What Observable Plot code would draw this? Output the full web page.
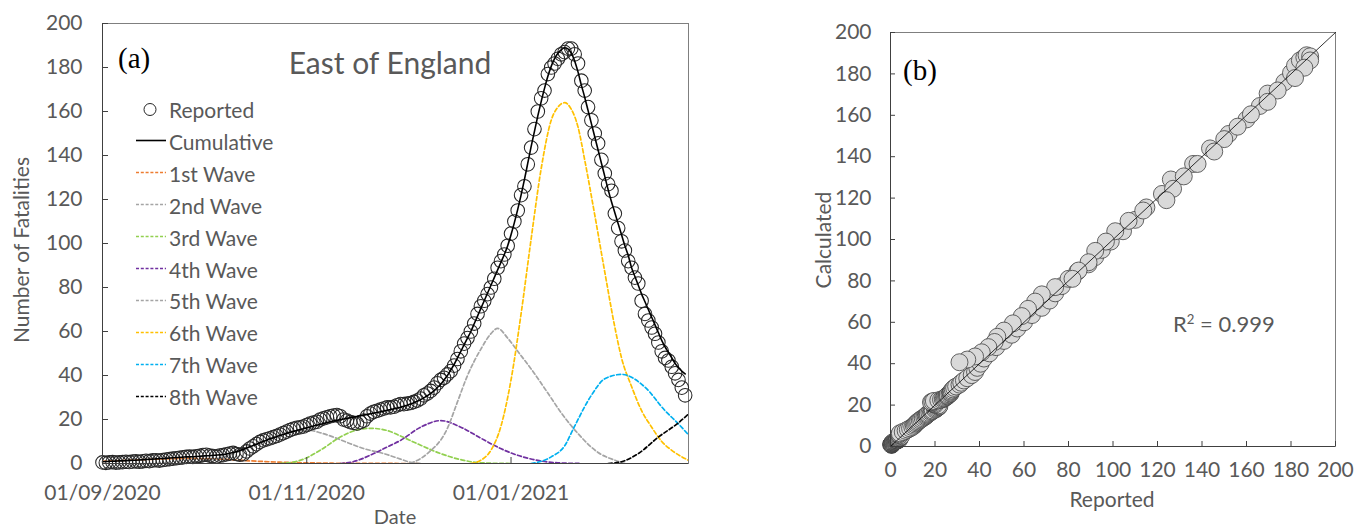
<!DOCTYPE html>
<html><head><meta charset="utf-8">
<script src="https://cdn.jsdelivr.net/npm/d3@7"></script>
<script src="https://cdn.jsdelivr.net/npm/@observablehq/plot@0.6"></script>
<style>
body{margin:0;background:#fff;}
#wrap{position:relative;width:1361px;height:530px;font-family:Lato,sans-serif;color:#595959;overflow:hidden;background:#fff}
#wrap svg.plot{position:absolute;top:0}
.t{position:absolute;white-space:nowrap;line-height:1}
.c{transform:translate(-50%,-50%)}
.r{transform:translate(-50%,-50%) rotate(-90deg)}
.leg{position:absolute;left:134px;display:flex;align-items:center;transform:translateY(-50%);font-size:21px;line-height:1;white-space:nowrap}
.leg span{margin-left:3px}
</style></head><body><div id="wrap"></div>
<script>
// ---------- data ----------
const startDate = "2020-09-01";
const endDate = "2021-02-23";
const dateTicks = ["2020-09-01", "2020-11-01", "2021-01-01"];
const valueTicks = [0, 20, 40, 60, 80, 100, 120, 140, 160, 180, 200];
const identityLine = [0, 200];

// daily reported fatalities (from 01/09/2020)
const reported = [
  0.5, 0.3, 0.5, 0.6, 0.4, 0.5,
  0.6, 0.8, 0.7, 0.9, 1.0, 0.8,
  1.0, 1.2, 1.1, 1.4, 1.5, 1.3,
  1.6, 1.8, 2.0, 2.2, 2.4, 2.6,
  2.8, 3.0, 3.2, 3.0, 3.3, 3.5,
  3.8, 4.0, 3.6, 3.4, 3.2, 3.6,
  3.8, 4.2, 4.5, 4.8, 4.3, 4.0,
  4.2, 5.5, 6.8, 7.8, 8.8, 9.8,
  10.5, 11.0, 11.5, 12.0, 12.5, 13.2,
  13.8, 14.5, 15.2, 15.8, 16.2, 16.5,
  16.8, 17.5, 18.2, 18.6, 19.0, 20.0,
  20.5, 21.0, 21.5, 21.8, 22.0, 21.5,
  20.0, 19.5, 18.8, 18.5, 18.2, 18.8,
  19.5, 21.5, 22.7, 23.5, 24.0, 24.5,
  25.0, 25.5, 25.5, 25.8, 26.5, 27.0,
  27.0, 27.2, 27.5, 28.0, 28.6, 29.5,
  31.0, 31.8, 33.0, 34.5, 36.5, 38.0,
  39.0, 40.5, 42.0, 44.5, 47.5, 51.0,
  54.5, 57.0, 60.0, 63.6, 68.0, 71.5,
  74.0, 77.0, 80.0, 84.0, 89.0, 92.0,
  95.0, 99.0, 104.5, 110.0, 115.0, 122.0,
  126.0, 136.0, 143.6, 152.0, 160.0, 166.0,
  169.5, 177.0, 180.0, 181.8, 184.0, 186.0,
  187.0, 188.6, 188.6, 186.0, 181.8, 174.0,
  169.5, 162.0, 156.0, 150.0, 145.5, 138.0,
  131.8, 127.0, 124.0, 113.6, 107.0, 101.0,
  96.8, 92.0, 89.0, 84.5, 81.8, 74.0,
  68.0, 65.0, 61.8, 59.0, 55.0, 51.0,
  48.0, 46.8, 44.0, 41.0, 38.0, 34.5,
  31.0
];

// daily calculated (cumulative of all waves)
const calculated = [
  0.8, 0.9, 1.0, 1.0, 1.1, 1.2,
  1.2, 1.3, 1.4, 1.5, 1.5, 1.6,
  1.7, 1.8, 1.9, 2.0, 2.1, 2.2,
  2.3, 2.4, 2.5, 2.6, 2.7, 2.8,
  2.9, 3.0, 3.0, 3.1, 3.2, 3.3,
  3.4, 3.5, 3.6, 3.7, 3.8, 3.9,
  4.1, 4.3, 4.6, 5.0, 5.4, 5.9,
  6.4, 7.0, 7.6, 8.2, 8.8, 9.4,
  10.0, 10.6, 11.2, 11.7, 12.2, 12.7,
  13.2, 13.7, 14.2, 14.6, 15.0, 15.4,
  15.8, 16.2, 16.6, 17.0, 17.4, 17.8,
  18.2, 18.6, 19.0, 19.3, 19.6, 19.9,
  20.2, 20.5, 20.8, 21.1, 21.4, 21.7,
  22.0, 22.3, 22.6, 22.9, 23.2, 23.5,
  23.9, 24.2, 24.5, 24.9, 25.2, 25.6,
  26.0, 26.5, 27.0, 27.6, 28.3, 29.0,
  29.9, 30.8, 31.9, 33.0, 34.5, 36.0,
  38.0, 40.0, 42.5, 45.0, 48.0, 51.0,
  54.0, 57.0, 60.0, 63.5, 67.0, 70.5,
  74.0, 77.5, 81.0, 84.5, 88.0, 91.5,
  95.0, 99.0, 104.0, 109.5, 115.5, 122.0,
  129.0, 136.5, 144.0, 151.0, 158.0, 164.5,
  170.5, 176.0, 180.5, 184.0, 186.5, 188.0,
  189.0, 188.5, 186.5, 183.0, 178.0, 172.0,
  166.5, 160.5, 154.5, 148.5, 142.5, 136.5,
  130.5, 124.5, 119.0, 114.0, 109.0, 104.0,
  99.0, 94.5, 89.0, 85.0, 81.0, 77.0,
  73.5, 70.0, 66.5, 63.0, 59.5, 56.0,
  53.0, 50.5, 48.0, 45.5, 43.5, 42.0,
  40.7
];

const wave1 = [["2020-09-01",1.0],["2020-09-09",1.5],["2020-09-18",2.0],["2020-09-27",2.3],["2020-10-06",2.0],["2020-10-15",1.2],["2020-10-24",0.6],["2020-11-05",0.2],["2020-11-17",0.05],["2020-12-05",0]];
const wave2 = [["2020-09-24",0],["2020-09-30",0.8],["2020-10-06",2.5],["2020-10-12",5.5],["2020-10-18",9.5],["2020-10-24",13],["2020-10-30",15],["2020-11-02",15],["2020-11-05",14],["2020-11-09",12],["2020-11-14",9],["2020-11-18",6.8],["2020-11-24",4.5],["2020-11-29",2],["2020-12-02",0.5],["2020-12-05",0]];
const wave3 = [["2020-10-24",0],["2020-10-30",1.4],["2020-11-05",6],["2020-11-11",12],["2020-11-15",14.8],["2020-11-20",16],["2020-11-25",15],["2020-11-29",12.5],["2020-12-04",9],["2020-12-11",4.5],["2020-12-18",1.4],["2020-12-23",0.3],["2021-01-01",0]];
const wave4 = [["2020-11-11",0],["2020-11-14",0.5],["2020-11-21",4.5],["2020-11-25",7.5],["2020-11-29",10.5],["2020-12-05",16.5],["2020-12-11",19.5],["2020-12-17",16.5],["2020-12-23",11.5],["2020-12-26",9],["2021-01-01",4.8],["2021-01-09",1.4],["2021-01-15",0.3],["2021-01-22",0]];
const wave5 = [["2020-12-02",0],["2020-12-07",4.5],["2020-12-13",16],["2020-12-16",28],["2020-12-19",40],["2020-12-23",52],["2020-12-26",59],["2020-12-28",61.4],["2020-12-31",57],["2021-01-03",51],["2021-01-07",43],["2021-01-12",32],["2021-01-16",23],["2021-01-21",13.6],["2021-01-27",5],["2021-02-01",1.5],["2021-02-04",0]];
const wave6 = [["2020-12-20",0],["2020-12-23",1.5],["2020-12-26",6],["2020-12-29",17],["2021-01-01",38],["2021-01-04",68],["2021-01-07",102],["2021-01-10",134],["2021-01-13",156],["2021-01-15",162],["2021-01-17",164],["2021-01-19",161],["2021-01-21",153],["2021-01-23",138],["2021-01-26",113],["2021-01-29",87],["2021-02-01",62],["2021-02-03",48],["2021-02-06",35],["2021-02-09",24],["2021-02-12",16.5],["2021-02-15",10],["2021-02-18",6],["2021-02-23",1.4]];
const wave7 = [["2021-01-07",0],["2021-01-13",3],["2021-01-17",8],["2021-01-20",17],["2021-01-25",31],["2021-01-29",38.5],["2021-02-03",40.5],["2021-02-10",34.7],["2021-02-16",24],["2021-02-20",18],["2021-02-23",13]];
const wave8 = [["2021-01-30",0],["2021-02-03",0.8],["2021-02-08",4.5],["2021-02-14",12],["2021-02-20",18.5],["2021-02-23",22.5]];

const waveNames = ["1st Wave","2nd Wave","3rd Wave","4th Wave","5th Wave","6th Wave","7th Wave","8th Wave"];
const waveColors = ["#ED7D31","#A5A5A5","#92D050","#7030A0","#A5A5A5","#FFC000","#00B0F0","#000000"];

// ---------- build ----------
const parse = s => new Date(s + "T00:00:00Z");
const fmt = d3.utcFormat("%d/%m/%Y");
const start = parse(startDate);
const days = reported.map((v, i) => ({date: d3.utcDay.offset(start, i), reported: v, calculated: calculated[i]}));
const waves = [wave1, wave2, wave3, wave4, wave5, wave6, wave7, wave8]
  .map((w, k) => w.map(([d, v]) => ({date: parse(d), value: v, wave: waveNames[k]})));

const axisColor = "#404040";
const baseStyle = {fontFamily: "Lato, sans-serif", fontSize: "21px", color: "#595959", background: "transparent", overflow: "visible"};

const plotA = Plot.plot({
  width: 700, height: 530,
  marginLeft: 102, marginRight: 12, marginTop: 23, marginBottom: 67,
  style: baseStyle,
  x: {type: "utc", domain: [start, parse(endDate)]},
  y: {domain: [0, 200]},
  marks: [
    Plot.frame({stroke: "#7f7f7f"}),
    ...waves.map((w, k) => Plot.line(w, {x: "date", y: "value", stroke: waveColors[k], strokeWidth: 1.7, strokeDasharray: "4,2.5", curve: "monotone-x", clip: true})),
    Plot.dot(days, {x: "date", y: "reported", r: 6.8, stroke: "#262626", strokeWidth: 1.05, fill: "none"}),
    Plot.line(days, {x: "date", y: "calculated", stroke: "#000", strokeWidth: 1.6, curve: "monotone-x"}),
    Plot.ruleY([0], {stroke: axisColor}),
    Plot.ruleX([start], {stroke: axisColor}),
    Plot.axisY({ticks: valueTicks, tickSize: 6, dx: 6, tickFormat: () => "", stroke: axisColor, label: null}),
    Plot.axisY({ticks: valueTicks, tickSize: 0, tickPadding: 20, label: null, fill: "#595959"}),
    Plot.axisX({ticks: dateTicks.map(parse), tickSize: 6, dy: -6, tickFormat: () => "", stroke: axisColor, label: null}),
    Plot.axisX({ticks: dateTicks.map(parse), tickSize: 0, tickPadding: 22, tickFormat: fmt, label: null, fill: "#595959"})
  ]
});
plotA.classList.add("plot");
plotA.style.left = "0px";

const plotB = Plot.plot({
  width: 601, height: 530,
  marginLeft: 130, marginRight: 26, marginTop: 32, marginBottom: 84,
  style: baseStyle,
  x: {domain: [0, 200]},
  y: {domain: [0, 200]},
  marks: [
    Plot.frame({stroke: "#7f7f7f"}),
    Plot.dot(days, {x: "reported", y: "calculated", r: 8.5, fill: "#d9d9d9", stroke: "#404040", strokeWidth: 0.8}),
    Plot.line(identityLine, {x: d => d, y: d => d, stroke: "#000", strokeWidth: 0.8}),
    Plot.ruleX([0], {stroke: axisColor}),
    Plot.ruleY([0], {stroke: axisColor}),
    Plot.axisY({ticks: valueTicks, tickSize: 5, dx: 5, tickFormat: () => "", stroke: axisColor, label: null}),
    Plot.axisY({ticks: valueTicks, tickSize: 0, tickPadding: 19, label: null, fill: "#595959"}),
    Plot.axisX({ticks: valueTicks, tickSize: 5, dy: -5, tickFormat: () => "", stroke: axisColor, label: null}),
    Plot.axisX({ticks: valueTicks, tickSize: 0, tickPadding: 16, label: null, fill: "#595959"})
  ]
});
plotB.classList.add("plot");
plotB.style.left = "760px";

const wrap = document.getElementById("wrap");
wrap.appendChild(plotA);
wrap.appendChild(plotB);

function addText(txt, x, y, cls, style) {
  const el = document.createElement("div");
  el.className = "t " + cls;
  el.textContent = txt;
  el.style.left = x + "px";
  el.style.top = y + "px";
  Object.assign(el.style, style || {});
  wrap.appendChild(el);
  return el;
}
addText("(a)", 118, 44, "", {fontFamily: "'Liberation Serif', serif", fontSize: "29px", color: "#000"});
addText("East of England", 390, 62, "c", {fontSize: "30px"});
addText("Number of Fatalities", 20, 250, "r", {fontSize: "21px"});
addText("Date", 395, 516, "c", {fontSize: "20px"});
addText("(b)", 903, 56, "", {fontFamily: "'Liberation Serif', serif", fontSize: "29px", color: "#000"});
addText("Calculated", 822, 240, "r", {fontSize: "21px"});
addText("Reported", 1112, 498, "c", {fontSize: "21px"});
const r2 = addText("", 1173, 324, "", {fontSize: "22px", transform: "translateY(-50%)"});
r2.innerHTML = "R<sup style='font-size:0.6em;vertical-align:0.6em'>2</sup> = 0.999";

// legend
const legendItems = [
  {name: "Reported", kind: "dot", color: "#262626"},
  {name: "Cumulative", kind: "solid", color: "#000"},
  ...waveNames.map((n, k) => ({name: n, kind: "dash", color: waveColors[k]}))
];
const legendTop = 109, legendStep = 31.9;
legendItems.forEach((it, i) => {
  const row = document.createElement("div");
  row.className = "leg";
  row.style.top = (legendTop + i * legendStep) + "px";
  let sym;
  if (it.kind === "dot") sym = `<circle cx="16" cy="8" r="6" fill="none" stroke="${it.color}" stroke-width="1"/>`;
  else if (it.kind === "solid") sym = `<line x1="2" x2="32" y1="8" y2="8" stroke="${it.color}" stroke-width="1.6"/>`;
  else sym = `<line x1="2" x2="32" y1="8" y2="8" stroke="${it.color}" stroke-width="1.4" stroke-dasharray="3,1.8"/>`;
  row.innerHTML = `<svg width="32" height="16" style="overflow:visible">${sym}</svg><span>${it.name}</span>`;
  wrap.appendChild(row);
});
</script></body></html>
